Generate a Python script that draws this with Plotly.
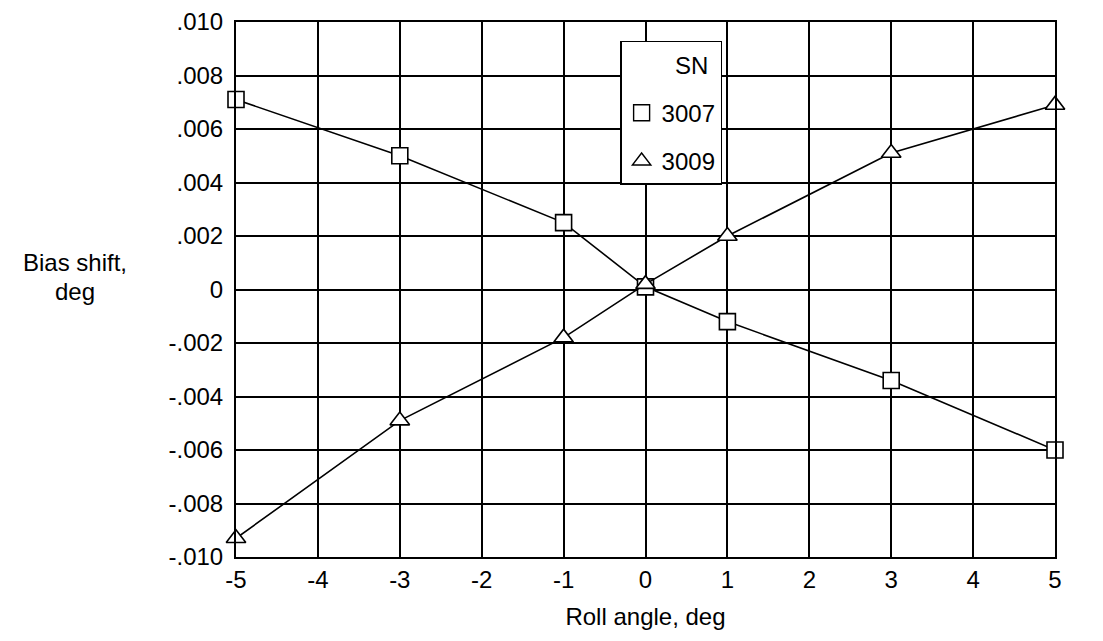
import plotly.graph_objects as go

roll = [-5, -3, -1, 0, 1, 3, 5]
sn3007 = [0.0071, 0.0050, 0.0025, 0.0001, -0.0012, -0.0034, -0.0060]
sn3009 = [-0.0093, -0.0049, -0.0018, 0.0002, 0.0020, 0.0051, 0.0069]
xticks = [-5, -4, -3, -2, -1, 0, 1, 2, 3, 4, 5]
yticks = [-0.010, -0.008, -0.006, -0.004, -0.002, 0, 0.002, 0.004, 0.006, 0.008, 0.010]
ylabels = ["-.010", "-.008", "-.006", "-.004", "-.002", "0", ".002", ".004", ".006", ".008", ".010"]

FONT = "Liberation Sans, Arial, Helvetica, sans-serif"

fig = go.Figure()
fig.add_trace(go.Scatter(x=roll, y=sn3007, mode="lines+markers", showlegend=False,
                         cliponaxis=False,
                         line=dict(color="black", width=1.6),
                         marker=dict(symbol="square", size=16, color="white",
                                     line=dict(color="black", width=1.6))))
fig.add_trace(go.Scatter(x=roll, y=sn3009, mode="lines+markers", showlegend=False,
                         cliponaxis=False,
                         line=dict(color="black", width=1.6),
                         marker=dict(symbol="triangle-up", size=17, color="white",
                                     line=dict(color="black", width=1.6))))
# legend header row (no symbol) and marker-only legend entries
fig.add_trace(go.Scatter(x=[None], y=[None], mode="markers", name="  SN", legendgroup="h",
                         marker=dict(size=1, color="rgba(0,0,0,0)",
                                     line=dict(width=0, color="rgba(0,0,0,0)"))))
fig.add_trace(go.Scatter(x=[None], y=[None], mode="markers", name="3007", legendgroup="a",
                         marker=dict(symbol="square-open", size=16, color="black",
                                     line=dict(width=1.4))))
fig.add_trace(go.Scatter(x=[None], y=[None], mode="markers", name="3009", legendgroup="b",
                         marker=dict(symbol="triangle-up-open", size=16, color="black",
                                     line=dict(width=1.4))))

fig.update_layout(
    width=1103, height=641,
    margin=dict(l=228, r=56, t=14, b=92),
    paper_bgcolor="white", plot_bgcolor="white",
    font=dict(family=FONT, size=24, color="black"),
    legend=dict(
        x=0.469, y=0.9645, xanchor="left", yanchor="top",
        bgcolor="white", bordercolor="black", borderwidth=1.5,
        font=dict(size=24), itemsizing="trace", itemwidth=30,
        tracegroupgap=14,
    ),
    xaxis=dict(
        range=[-5, 5], tickvals=xticks, ticktext=[str(v) for v in xticks],
        showgrid=True, gridcolor="black", gridwidth=1.5,
        showline=True, linecolor="black", linewidth=2, mirror=True,
        zeroline=False, ticks="", ticklen=0, automargin=False,
        title=dict(text="Roll angle, deg", font=dict(size=24), standoff=16),
    ),
    yaxis=dict(
        range=[-0.010, 0.010], tickvals=yticks, ticktext=ylabels,
        showgrid=True, gridcolor="black", gridwidth=1.5,
        showline=True, linecolor="black", linewidth=2, mirror=True,
        zeroline=False, ticks="", ticklen=0, automargin=False,
        ticklabelstandoff=6,
    ),
    annotations=[
        dict(text="Bias shift,", xref="paper", yref="paper",
             x=-0.1966, y=0.551, xanchor="center", yanchor="middle",
             showarrow=False, font=dict(size=24)),
        dict(text="deg", xref="paper", yref="paper",
             x=-0.1966, y=0.497, xanchor="center", yanchor="middle",
             showarrow=False, font=dict(size=24)),
    ],
)

fig.write_html("out.html")
